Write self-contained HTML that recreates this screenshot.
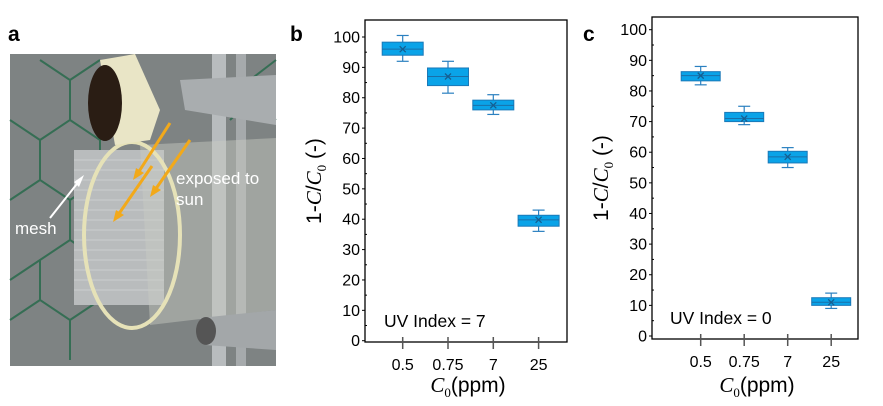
<!DOCTYPE html>
<html><head><meta charset="utf-8"><style>
body{margin:0;background:#fff;width:883px;height:406px;overflow:hidden}
svg{display:block;font-family:"Liberation Sans",Arial,sans-serif}
</style></head><body>
<svg id="fig" width="883" height="406" viewBox="0 0 883 406">
<g>
<text x="8" y="41" font-size="21" font-weight="bold">a</text>
<rect x="10" y="54" width="266" height="312" fill="#7e8383"/>
<g stroke="#2e6b4f" stroke-width="2" fill="none" opacity="0.9">
<path d="M40 60 L70 80 L70 120 L40 140 L10 120 M70 80 L100 60 M70 120 L100 140 L100 180 L70 200 L40 180 L40 140 M100 180 L130 200 L130 240 L100 260 L70 240 L70 200 M10 200 L40 180 M10 280 L40 260 L70 240 M40 260 L40 300 L70 320 L70 360 M40 300 L10 320 M70 320 L100 300"/>
<path d="M250 80 L276 60 M230 120 L250 100 L276 120"/>
</g>
<rect x="212" y="54" width="14" height="312" fill="#b8bcbe"/>
<rect x="236" y="54" width="10" height="312" fill="#a6aaac"/>
<rect x="74" y="150" width="90" height="155" fill="#b9bcbd"/>
<g stroke="#d8dadb" stroke-width="1" opacity="0.6">
<path d="M74 160 H164 M74 170 H164 M74 180 H164 M74 190 H164 M74 200 H164 M74 210 H164 M74 220 H164 M74 230 H164 M74 240 H164 M74 250 H164 M74 260 H164 M74 270 H164 M74 280 H164 M74 290 H164"/>
</g>
<path d="M140 145 L276 138 L276 310 L150 325" fill="#c9cbc4" opacity="0.45"/>
<ellipse cx="132" cy="235" rx="48" ry="93" fill="none" stroke="#e6e2b8" stroke-width="4"/>
<path d="M100 60 L135 54 L160 110 L150 140 L115 145 Z" fill="#e9e5c6"/>
<ellipse cx="105" cy="103" rx="17" ry="38" fill="#2a1d14"/>
<path d="M180 80 L276 75 L276 125 L185 110 Z" fill="#a9adaf"/>
<path d="M200 318 L276 310 L276 350 L205 345 Z" fill="#a3a7a9"/>
<ellipse cx="206" cy="331" rx="10" ry="14" fill="#555"/>
<g stroke="#f2a91a" stroke-width="3" fill="#f2a91a">
<line x1="170" y1="123" x2="138" y2="173"/><polygon points="133,180 136,168 144,173" stroke="none"/>
<line x1="190" y1="140" x2="155" y2="190"/><polygon points="150,197 153,185 161,190" stroke="none"/>
<line x1="152" y1="166" x2="118" y2="215"/><polygon points="113,222 116,210 124,215" stroke="none"/>
</g>
<text x="176" y="184" fill="#fff" font-size="17">exposed to</text>
<text x="176" y="205" fill="#fff" font-size="17">sun</text>
<line x1="50" y1="218" x2="80" y2="180" stroke="#fff" stroke-width="2"/>
<polygon points="84,175 79,187 74,182" fill="#fff"/>
<text x="15" y="234" fill="#fff" font-size="17">mesh</text>
</g>
</svg>
<script>
const categories = ["0.5","0.75","7","25"];
const yTicks = [0,10,20,30,40,50,60,70,80,90,100];
const bWhiskLo = [92,81.5,74.5,36];
const bQ1 = [94,84,76,37.7];
const bMed = [96,87,77.5,39.8];
const bQ3 = [98.3,89.8,79.2,41.3];
const bWhiskHi = [100.5,92,81,43];
const bMean = [96,87,77.5,39.8];
const cWhiskLo = [82,69,55,9];
const cQ1 = [83.3,70,56.5,10];
const cMed = [85,71,58.5,11];
const cQ3 = [86.3,73,60.3,12.5];
const cWhiskHi = [88,75,61.5,14];
const cMean = [85,71,58.5,11];

const NS = "http://www.w3.org/2000/svg";
const svg = document.getElementById('fig');
function mk(tag, attrs, parent){const e=document.createElementNS(NS,tag);for(const k in attrs)e.setAttribute(k,attrs[k]);(parent||svg).appendChild(e);return e;}

function panel(p){
  const g = mk('g',{});
  
  
  const y = v => p.y0 + (p.y100 - p.y0) * v / 100;
  const x = i => p.x0 + p.dx * i;
  const lab = mk('text',{x:p.labX,y:41,'font-size':21,'font-weight':'bold'},g); lab.textContent=p.id;
  
  
  const fr = mk('rect',{x:p.fl,y:p.ft,width:p.fr-p.fl,height:p.fb-p.ft,fill:'none',stroke:'#000','stroke-width':1.3},g);
  
  
  yTicks.forEach(t=>{
    mk('line',{x1:p.fl-3,x2:p.fl,y1:y(t),y2:y(t),stroke:'#000'},g);
    if (t < 100) mk('line',{x1:p.fl,x2:p.fl+2,y1:y(t+5),y2:y(t+5),stroke:'#000'},g);
    const tx = mk('text',{x:p.fl-5,y:y(t)+5.5,'font-size':16,'text-anchor':'end'},g); tx.textContent=t;
    
    
  });
  categories.forEach((c,i)=>{
    mk('line',{x1:x(i),x2:x(i),y1:p.fb-5,y2:p.fb+7,stroke:'#555','stroke-width':1.5},g);
    const tx = mk('text',{x:x(i),y:p.fb+28,'font-size':16,'text-anchor':'middle'},g); tx.textContent=c;
    
    
    const bx = mk('g',{},g);
    
    
    const w = p.bw, l = x(i)-w/2;
    mk('line',{x1:x(i),x2:x(i),y1:y(p.lo[i]),y2:y(p.hi[i]),stroke:'#2b80c0','stroke-width':1.2},bx);
    mk('line',{x1:x(i)-6,x2:x(i)+6,y1:y(p.lo[i]),y2:y(p.lo[i]),stroke:'#2b80c0','stroke-width':1.2},bx);
    mk('line',{x1:x(i)-6,x2:x(i)+6,y1:y(p.hi[i]),y2:y(p.hi[i]),stroke:'#2b80c0','stroke-width':1.2},bx);
    mk('rect',{x:l,y:y(p.q3[i]),width:w,height:y(p.q1[i])-y(p.q3[i]),fill:'#0aa3e8',stroke:'#1a79b8','stroke-width':1},bx);
    mk('line',{x1:l,x2:l+w,y1:y(p.med[i]),y2:y(p.med[i]),stroke:'#1a6fa8','stroke-width':1},bx);
    const my=y(p.mean[i]);
    mk('path',{d:`M${x(i)-3} ${my-3}L${x(i)+3} ${my+3}M${x(i)-3} ${my+3}L${x(i)+3} ${my-3}`,stroke:'#155e90','stroke-width':1.3},bx);
  });
  const uv = mk('text',{x:p.uvX,y:p.fb-15,'font-size':17.5},g); uv.textContent='UV Index = '+p.uv;
  
  
  const xt = mk('text',{x:(p.fl+p.fr)/2+2,y:392,'font-size':21,'text-anchor':'middle'},g);
  xt.innerHTML='<tspan font-family="Liberation Serif" font-style="italic">C</tspan><tspan font-size="13" dy="5" font-family="Liberation Serif">0</tspan><tspan dy="-5">(ppm)</tspan>';
  
  
  const yt = mk('text',{transform:`translate(${p.fl-44},${(p.ft+p.fb)/2}) rotate(-90)`,'font-size':21,'text-anchor':'middle'},g);
  yt.innerHTML='1-<tspan font-family="Liberation Serif" font-style="italic">C</tspan>/<tspan font-family="Liberation Serif" font-style="italic">C</tspan><tspan font-size="13" dy="5" font-family="Liberation Serif">0</tspan><tspan dy="-5"> (-)</tspan>';
  
  
}
panel({id:'b',labX:290,fl:365,fr:567,ft:20,fb:342,y0:340.7,y100:37,x0:402.7,dx:45.3,bw:41,
  lo:bWhiskLo,q1:bQ1,med:bMed,q3:bQ3,hi:bWhiskHi,mean:bMean,uv:7,uvX:384});
panel({id:'c',labX:583,fl:652,fr:858,ft:17,fb:339,y0:336,y100:29.7,x0:700.7,dx:43.5,bw:39,
  lo:cWhiskLo,q1:cQ1,med:cMed,q3:cQ3,hi:cWhiskHi,mean:cMean,uv:0,uvX:670});
</script>
</body></html>
